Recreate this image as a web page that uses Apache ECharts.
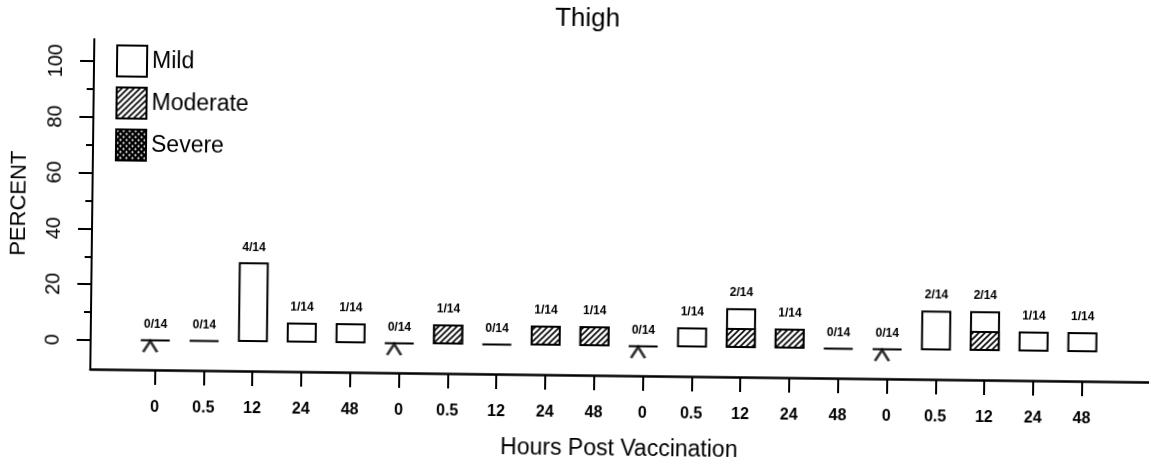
<!DOCTYPE html>
<html>
<head>
<meta charset="utf-8">
<style>
  html, body { margin: 0; padding: 0; background: #fff; }
  #main { width: 1151px; height: 465px; transform: rotate(0.7deg); transform-origin: 50% 50%; }
</style>
<script src="https://cdn.jsdelivr.net/npm/echarts@6/dist/echarts.min.js"></script>
</head>
<body>
<div id="main"></div>
<script>
// hours post vaccination, 4 groups of 5 visits
const hours = ['0', '0.5', '12', '24', '48', '0', '0.5', '12', '24', '48',
               '0', '0.5', '12', '24', '48', '0', '0.5', '12', '24', '48'];
// number of subjects per grade (out of 14)
const mildCount     = [0, 0, 4, 1, 1, 0, 0, 0, 0, 0, 0, 1, 1, 0, 0, 0, 2, 1, 1, 1];
const moderateCount = [0, 0, 0, 0, 0, 0, 1, 0, 1, 1, 0, 0, 1, 1, 0, 0, 0, 1, 0, 0];
const severeCount   = [0, 0, 0, 0, 0, 0, 0, 0, 0, 0, 0, 0, 0, 0, 0, 0, 0, 0, 0, 0];
const total = 14;
// baseline (pre-vaccination) markers
const baselineIdx = [0, 5, 10, 15];
const yMajor = [0, 20, 40, 60, 80, 100];
const yMinor = [10, 30, 50, 70, 90];

const font = "'Liberation Sans', Arial, sans-serif";

// hatch fill for moderate
function hatchPattern () {
  let c = document.createElement('canvas');
  c.width = 6; c.height = 6;
  let g = c.getContext('2d');
  g.fillStyle = '#fff';
  g.fillRect(0, 0, 6, 6);
  g.strokeStyle = '#000';
  g.lineWidth = 1.6;
  g.beginPath();
  g.moveTo(0, 6); g.lineTo(6, 0);
  g.moveTo(-3, 3); g.lineTo(3, -3);
  g.moveTo(3, 9); g.lineTo(9, 3);
  g.stroke();
  return c;
}
// dotted fill for severe
function dotPattern () {
  let c = document.createElement('canvas');
  c.width = 6; c.height = 6;
  let g = c.getContext('2d');
  g.fillStyle = '#000';
  g.fillRect(0, 0, 6, 6);
  g.fillStyle = '#fff';
  g.beginPath();
  g.arc(1.5, 1.5, 1.1, 0, Math.PI * 2);
  g.arc(4.5, 4.5, 1.1, 0, Math.PI * 2);
  g.fill();
  return c;
}

const toPct = c => c / total * 100;
// white box = whole stack (mild + moderate + severe), hatched part drawn over its bottom
const stackPct = hours.map((h, i) => [i + 1, toPct(mildCount[i] + moderateCount[i] + severeCount[i])]);
const moderatePct = hours.map((h, i) => [i + 1, toPct(moderateCount[i] + severeCount[i])]);
const severePct = hours.map((h, i) => [i + 1, toPct(severeCount[i])]).filter(d => d[1] > 0);
const countLabel = hours.map((h, i) => (mildCount[i] + moderateCount[i] + severeCount[i]) + '/' + total);
const ticksX = hours.map((h, i) => i + 1);

const chart = echarts.init(document.getElementById('main'));
const border = { borderColor: '#000', borderWidth: 2 };

chart.setOption({
  animation: false,
  backgroundColor: '#fff',
  textStyle: { fontFamily: font, color: '#000' },
  title: {
    text: 'Thigh',
    left: 580,
    textAlign: 'center',
    top: 1,
    textStyle: { fontFamily: font, fontSize: 26, fontWeight: 'normal', color: '#000' }
  },
  legend: {
    data: ['Mild', 'Moderate', 'Severe'],
    orient: 'vertical',
    left: 114,
    top: 50,
    padding: 0,
    icon: 'rect',
    itemWidth: 30,
    itemHeight: 31,
    itemGap: 9,
    selectedMode: false,
    textStyle: { fontFamily: font, fontSize: 23, color: '#000' }
  },
  grid: { left: 91, right: 0, top: 45, bottom: 90 },
  xAxis: {
    type: 'value',
    min: -0.325,
    max: 21.38,
    name: 'Hours Post Vaccination',
    nameLocation: 'middle',
    nameGap: 62,
    nameTextStyle: { fontFamily: font, fontSize: 23, color: '#000' },
    axisLine: { show: true, onZero: false, lineStyle: { color: '#000', width: 2.5 } },
    axisTick: { show: true, customValues: ticksX, length: 15, lineStyle: { color: '#000', width: 2 } },
    axisLabel: {
      customValues: ticksX,
      margin: 30,
      fontSize: 16,
      fontWeight: 'bold',
      color: '#000',
      fontFamily: font,
      formatter: v => hours[Math.round(v) - 1]
    },
    splitLine: { show: false }
  },
  yAxis: [{
    type: 'value',
    min: -10.4,
    max: 107.9,
    name: 'PERCENT',
    nameLocation: 'middle',
    nameRotate: 90,
    nameGap: 62,
    nameTextStyle: { fontFamily: font, fontSize: 22, color: '#000' },
    axisLine: { show: true, onZero: false, lineStyle: { color: '#000', width: 2 } },
    axisTick: { show: true, customValues: yMajor, length: 14, lineStyle: { color: '#000', width: 2 } },
    axisLabel: {
      customValues: yMajor,
      rotate: 90,
      margin: 28,
      fontSize: 20,
      color: '#000',
      fontFamily: font
    },
    splitLine: { show: false }
  }, {
    type: 'value',
    position: 'left',
    min: -10.4,
    max: 107.9,
    axisLine: { show: false, onZero: false },
    axisTick: { show: true, customValues: yMinor, length: 7, lineStyle: { color: '#000', width: 2 } },
    axisLabel: { show: false },
    splitLine: { show: false }
  }],
  series: [
    {
      name: 'Mild',
      type: 'bar',
      barWidth: 30,
      barGap: '-100%',
      barMinHeight: 1,
      itemStyle: Object.assign({ color: '#fff' }, border),
      label: {
        show: true,
        position: 'top',
        distance: 9,
        fontSize: 12,
        fontWeight: 'bold',
        color: '#000',
        fontFamily: font,
        formatter: p => countLabel[p.dataIndex]
      },
      data: stackPct
    },
    {
      name: 'Moderate',
      type: 'bar',
      barWidth: 30,
      barGap: '-100%',
      itemStyle: Object.assign({ color: { image: hatchPattern(), repeat: 'repeat' } }, border),
      data: moderatePct.filter(d => d[1] > 0)
    },
    {
      name: 'Severe',
      type: 'bar',
      barWidth: 30,
      barGap: '-100%',
      itemStyle: Object.assign({ color: { image: dotPattern(), repeat: 'repeat' } }, border),
      data: severePct
    },
    {
      name: 'baseline',
      type: 'scatter',
      symbol: 'path://M0,10 L5,0 L10,10',
      symbolSize: [14, 11],
      symbolOffset: [-5, 0],
      itemStyle: { color: 'rgba(0,0,0,0)', borderColor: '#000', borderWidth: 2.5 },
      data: baselineIdx.map(i => [i + 1, -2.1])
    }
  ]
});
</script>
</body>
</html>
